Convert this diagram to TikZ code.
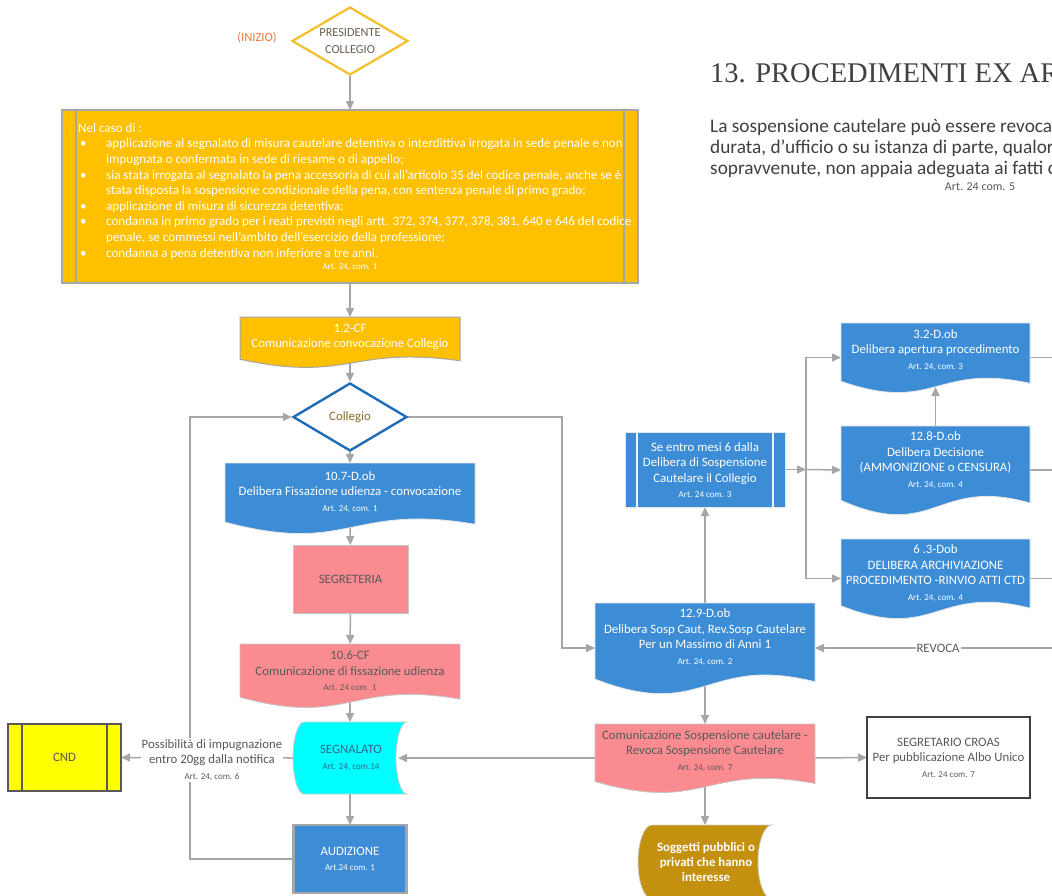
\documentclass[tikz,border=0pt]{standalone}
\usepackage{fontspec}
\setmainfont{Carlito}
\newfontfamily\tnrfont{Liberation Serif}
\usetikzlibrary{arrows.meta,calc,shapes.geometric}
\pgfdeclarelayer{bg}
\pgfdeclarelayer{lines}
\pgfdeclarelayer{shapes}
\pgfsetlayers{bg,lines,shapes,main}
\definecolor{cgold}{HTML}{FFC000}
\definecolor{cblue}{HTML}{3D8CD6}
\definecolor{cpink}{HTML}{FA8C91}
\definecolor{ccyan}{HTML}{00FFFF}
\definecolor{cyel}{HTML}{FFFF00}
\definecolor{cbrown}{HTML}{C4910E}
\definecolor{cline}{HTML}{A6A6A6}
\definecolor{cdark}{HTML}{595959}
\definecolor{cdarkb}{HTML}{404040}
\definecolor{corange}{HTML}{E8793A}
\definecolor{cdiam}{HTML}{F5BF2A}
\definecolor{cdblue}{HTML}{1F6DB8}
\definecolor{ccol}{HTML}{8A6A2E}
\definecolor{cpres}{HTML}{6B5E50}
\definecolor{cseg}{HTML}{2D6A8A}
\definecolor{ctitle}{HTML}{404040}

\newcommand{\smallart}[1]{{\fontsize{9}{15.6}\selectfont #1}}

% document shape: name, x1, y1, x2, y2, style
\newcommand{\docnode}[6]{%
  \node[geo, minimum width={#4-#2}, minimum height={#5-#3}] (#1) at ({(#2+#4)/2},{(#3+#5)/2}) {};
  \begin{pgfonlayer}{shapes}
    \filldraw[#6] (#2,#3) -- (#4,#3) -- (#4,{#3+0.875*(#5-#3)})
      .. controls ({(#2+#4)/2},{#3+0.57*(#5-#3)}) and ({(#2+#4)/2},{#3+1.32*(#5-#3)}) ..
      (#2,{#3+0.845*(#5-#3)}) -- cycle;
  \end{pgfonlayer}}

% stored data shape: name, x1, y1, x2, y2, d, style
\newcommand{\storednode}[7]{%
  \node[geo, minimum width={#4-#2}, minimum height={#5-#3}] (#1) at ({(#2+#4)/2},{(#3+#5)/2}) {};
  \begin{pgfonlayer}{shapes}
    \filldraw[#7] ({#2+#6},#3) -- (#4,#3)
      .. controls ({#4-0.552*#6},#3) and ({#4-#6},{(#3+#5)/2-0.276*(#5-#3)}) .. ({#4-#6},{(#3+#5)/2})
      .. controls ({#4-#6},{(#3+#5)/2+0.276*(#5-#3)}) and ({#4-0.552*#6},#5) .. (#4,#5)
      -- ({#2+#6},#5)
      .. controls ({#2+0.448*#6},#5) and (#2,{(#3+#5)/2+0.276*(#5-#3)}) .. (#2,{(#3+#5)/2})
      .. controls (#2,{(#3+#5)/2-0.276*(#5-#3)}) and ({#2+0.448*#6},#3) .. ({#2+#6},#3) -- cycle;
  \end{pgfonlayer}}

\begin{document}
\begin{tikzpicture}[x=1pt,y=-1pt,
  geo/.style={rectangle, draw=none, inner sep=0pt, outer sep=0pt},
  txt/.style={align=center, inner sep=0pt, font=\fontsize{12.8}{15.6}\selectfont},
  arr/.style={draw=cline, line width=1.5pt, -{Triangle[length=9pt,width=8pt]}},
  ln/.style={draw=cline, line width=1.5pt},
  blueshape/.style={fill=cblue, draw=white!80!gray, line width=0.8pt},
  pinkshape/.style={fill=cpink, draw=gray!45, line width=0.8pt},
  goldshape/.style={fill=cgold, draw=cline, line width=1pt},
]
\useasboundingbox (0,0) rectangle (1052,895);
\begin{pgfonlayer}{bg}
  \fill[white] (0,0) rectangle (1052,895);
\end{pgfonlayer}

% ---------- top right texts ----------
\node[anchor=base west, inner sep=0pt, text=ctitle, font=\tnrfont\fontsize{28.5}{30}\selectfont] (title) at (710,82) {13. PROCEDIMENTI EX AR};
\node[anchor=base west, inner sep=0pt, text=ctitle, font=\fontsize{19.3}{21}\selectfont] (par1) at (710,132) {La sospensione cautelare può essere revoca};
\node[anchor=base west, inner sep=0pt, text=ctitle, font=\fontsize{19.3}{21}\selectfont] (par2) at (710,153) {durata, d’ufficio o su istanza di parte, qualor};
\node[anchor=base west, inner sep=0pt, text=ctitle, font=\fontsize{19.3}{21}\selectfont] (par3) at (710,174) {sopravvenute, non appaia adeguata ai fatti c};
\node[txt, text=cdark, font=\fontsize{12}{14}\selectfont] (part) at (980,187) {Art. 24 com. 5};

% ---------- start ----------
\node[txt, text=corange, font=\fontsize{12.5}{15}\selectfont] (inizio) at (257,38) {(INIZIO)};
\node[diamond, aspect=1.7, draw=cdiam, line width=2.2pt, fill=white, minimum width=116, minimum height=68, inner sep=0pt, align=center, text=cpres, font=\fontsize{12.3}{16.5}\selectfont] (pres) at (350,41) {PRESIDENTE\\COLLEGIO};

% ---------- big yellow box ----------
\node[geo, fill=cgold, draw=cline, line width=1.2pt, minimum width=576, minimum height=173] (yb) at (350,196.5) {};
\draw[cline, line width=1.2pt] (76,110) -- (76,283) (624,110) -- (624,283);
\node[anchor=north west, align=left, inner sep=0pt, text=white, font=\fontsize{13.05}{15.6}\selectfont] (ybt) at (78,123) {Nel caso di :\\
\makebox[28pt][l]{\hspace{2pt}\textbullet}applicazione al segnalato di misura cautelare detentiva o interdittiva irrogata in sede penale e non\\
\hspace*{28pt}impugnata o confermata in sede di riesame o di appello;\\
\makebox[28pt][l]{\hspace{2pt}\textbullet}sia stata irrogata al segnalato la pena accessoria di cui all’articolo 35 del codice penale, anche se è\\
\hspace*{28pt}stata disposta la sospensione condizionale della pena, con sentenza penale di primo grado;\\
\makebox[28pt][l]{\hspace{2pt}\textbullet}applicazione di misura di sicurezza detentiva;\\
\makebox[28pt][l]{\hspace{2pt}\textbullet}condanna in primo grado per i reati previsti negli artt. 372, 374, 377, 378, 381, 640 e 646 del codice\\
\hspace*{28pt}penale, se commessi nell’ambito dell’esercizio della professione;\\
\makebox[28pt][l]{\hspace{2pt}\textbullet}condanna a pena detentiva non inferiore a tre anni.};
\node[txt, text=white] (ybart) at (350,267) {\smallart{Art. 24, com. 1}};

% ---------- left column ----------
\docnode{n12}{240}{317}{460}{367}{goldshape}
\node[txt, text=white] (t12) at (350,337) {1.2-CF\\Comunicazione convocazione Collegio};

\node[diamond, aspect=1.68, draw=cdblue, line width=2.4pt, fill=white, minimum width=114, minimum height=68, inner sep=0pt, text=ccol, font=\fontsize{12.8}{15.6}\selectfont] (coll) at (350,417) {Collegio};

\docnode{n107}{225}{463}{475}{533}{blueshape}
\node[txt, text=white] (t107) at (350,492) {10.7-D.ob\\Delibera Fissazione udienza - convocazione\\\smallart{Art. 24, com. 1}};

\node[geo, fill=cpink, draw=gray!45, line width=0.8pt, minimum width=115, minimum height=68, txt, text=cdark] (segr) at (350.5,579) {SEGRETERIA};

\docnode{n106}{240}{644}{460}{707}{pinkshape}
\node[txt, text=cdark] (t106) at (350,671) {10.6-CF\\Comunicazione di fissazione udienza\\\smallart{Art. 24 com. 1}};

\storednode{segn}{293}{722}{407}{794}{11}{fill=ccyan, draw=gray!40, line width=0.8pt}
\node[txt, text=cseg] (tsegn) at (351,758) {SEGNALATO\\\smallart{Art. 24, com.14}};

\node[geo, fill=cblue, draw=cline, line width=2.5pt, minimum width=113, minimum height=68, txt, text=white] (aud) at (350,859) {AUDIZIONE\\\smallart{Art.24 com. 1}};

\node[geo, fill=cyel, draw=cdark, line width=1.3pt, minimum width=113, minimum height=67, txt, text=cdark] (cnd) at (64.5,757.5) {CND};
\draw[cdark, line width=1.3pt] (22,724) -- (22,791) (107,724) -- (107,791);

\node[txt, fill=white, text=cdark, inner sep=1pt] (imp) at (212,760) {Possibilità di impugnazione\\entro 20gg dalla notifica\\\smallart{Art. 24, com. 6}};

% ---------- right column ----------
\node[geo, fill=cblue, draw=white!80!gray, line width=0.8pt, minimum width=160, minimum height=75] (sentro) at (705,469.5) {};
\draw[white!90!gray, line width=1.2pt] (637,432) -- (637,507) (773,432) -- (773,507);
\node[txt, text=white] (tsentro) at (705,470) {Se entro mesi 6 dalla\\Delibera di Sospensione\\Cautelare il Collegio\\\smallart{Art. 24 com. 3}};

\docnode{n32}{841}{323}{1030}{392}{blueshape}
\node[txt, text=white] (t32) at (935.5,350) {3.2-D.ob\\Delibera apertura procedimento\\\smallart{Art. 24, com. 3}};

\docnode{n128}{841}{426}{1030}{514}{blueshape}
\node[txt, text=white] (t128) at (935.5,460) {12.8-D.ob\\Delibera Decisione\\(AMMONIZIONE o CENSURA)\\\smallart{Art. 24, com. 4}};

\docnode{n63}{841}{539}{1030}{618}{blueshape}
\node[txt, text=white] (t63) at (935.5,573) {6 .3-Dob\\DELIBERA ARCHIVIAZIONE\\PROCEDIMENTO -RINVIO ATTI CTD\\\smallart{Art. 24, com. 4}};

\docnode{n129}{595}{603}{815}{693}{blueshape}
\node[txt, text=white] (t129) at (705,637) {12.9-D.ob\\Delibera Sosp Caut, Rev.Sosp Cautelare\\Per un Massimo di Anni 1\\\smallart{Art. 24, com. 2}};

\node[txt, fill=white, text=cdark, inner xsep=1pt, inner ysep=2pt] (trev) at (938,648) {REVOCA};

\docnode{ncom}{595}{724}{815}{792}{pinkshape}
\node[txt, text=cdark] (tcom) at (705,751) {Comunicazione Sospensione cautelare -\\Revoca Sospensione Cautelare\\\smallart{Art. 24, com. 7}};

\node[geo, fill=white, draw=cdarkb, line width=2.6pt, minimum width=163, minimum height=81, txt, text=cdark] (croas) at (948.5,757.5) {SEGRETARIO CROAS\\Per pubblicazione Albo Unico\\\smallart{Art. 24 com. 7}};

\storednode{sogg}{638}{825}{772}{899}{14}{fill=cbrown, draw=gray!40, line width=0.8pt}
\node[txt, text=white, font={\fontsize{12.8}{15.2}\selectfont\bfseries}] (tsogg) at (706,862) {Soggetti pubblici o\\privati che hanno\\interesse};

% ---------- coordinates ----------
\coordinate (jL) at (190,858);
\coordinate (jR) at (562,417);
\coordinate (jS) at (806,469.5);
\coordinate (oE) at (1058,0);
\coordinate (rev) at (1058,648);

% ---------- connectors ----------
\begin{pgfonlayer}{lines}
\draw[arr] (pres) -- (yb);
\draw[arr] (yb) -- (n12);
\draw[arr] (n12.center) -- (coll);
\draw[arr] (coll) -- (n107);
\draw[arr] (n107.center) -- (segr);
\draw[arr] (segr) -- (n106);
\draw[arr] (n106.center) -- (segn);
\draw[arr] (segn) -- (aud);
\draw[arr] (aud.west) -- (aud.west -| jL) |- (coll.west);
\draw[arr] (segn.west) -- (cnd.east);
\draw[arr] (coll.east) -- (jR) |- (n129.west);
\draw[arr] (n129.north) -- (sentro.south);
\draw[arr] (sentro.east) -- (jS);
\draw[arr] (jS) |- (n32.west);
\draw[arr] (jS) -- (n128.west);
\draw[arr] (jS) |- (n63.west);
\draw[arr] (n128.north) -- ([yshift=5pt]n32.south);
\draw[ln] (n32.east) -- (n32.east -| oE);
\draw[ln] (n128.east) -- (n128.east -| oE);
\draw[ln] (n63.east) -- (n63.east -| oE);
\draw[arr] (rev) -- (n129.east);
\draw[arr] (n129.center) -- (ncom);
\draw[arr] (ncom.west) -- ([xshift=-9pt]segn.east);
\draw[arr] (ncom.east) -- (croas.west);
\draw[arr] (ncom.center) -- (sogg);
\end{pgfonlayer}
\end{tikzpicture}
\end{document}
